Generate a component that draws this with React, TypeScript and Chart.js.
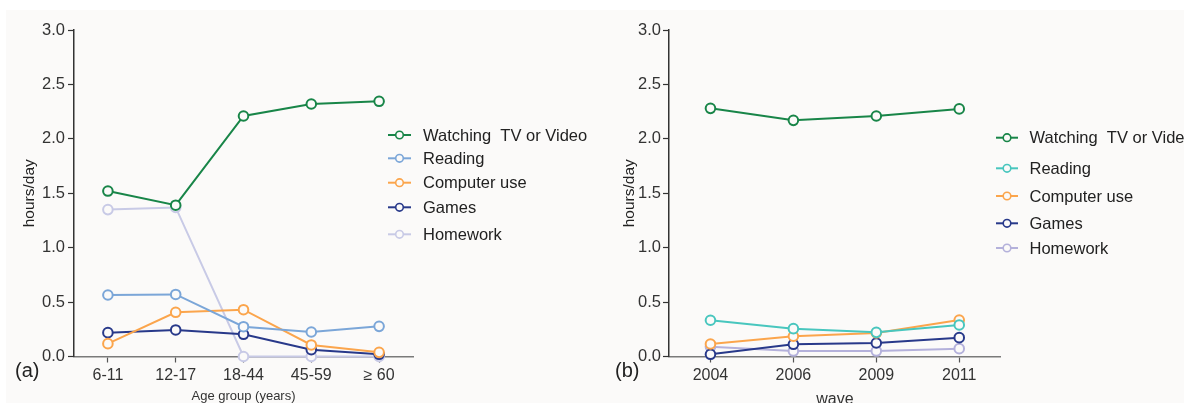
import React, { useEffect, useRef } from "react";
import { Chart, registerables } from "chart.js";

Chart.register(...registerables);

const ageGroups = ["6-11", "12-17", "18-44", "45-59", "\u2265 60"];
const waves = ["2004", "2006", "2009", "2011"];

const seriesNames = ["Watching  TV or Video", "Reading", "Computer use", "Games", "Homework"];

const ageWatching = [1.52, 1.39, 2.21, 2.32, 2.345];
const ageReading = [0.565, 0.57, 0.274, 0.225, 0.277];
const ageComputer = [0.118, 0.406, 0.43, 0.106, 0.038];
const ageGames = [0.219, 0.244, 0.204, 0.063, 0.02];
const ageHomework = [1.35, 1.37, 0, 0, 0];

const waveWatching = [2.28, 2.17, 2.21, 2.275];
const waveReading = [0.333, 0.256, 0.222, 0.29];
const waveComputer = [0.115, 0.186, 0.216, 0.335];
const waveGames = [0.02, 0.112, 0.124, 0.173];
const waveHomework = [0.09, 0.05, 0.05, 0.072];

const yTicks = [0, 0.5, 1.0, 1.5, 2.0, 2.5, 3.0];

const leftColors = ["#188548", "#7ba6d8", "#fba54c", "#28398a", "#c8cae6"];
const rightColors = ["#188548", "#48c6be", "#fba54c", "#28398a", "#b4b1db"];

const BG = "#fbfaf9";
const FONT = "'Liberation Sans', Arial, Helvetica, sans-serif";

const sideLegend = {
  id: "sideLegend",
  afterDraw(chart: any, _args: any, opts: any) {
    const ctx = chart.ctx;
    ctx.save();
    chart.data.datasets.forEach((ds: any, i: number) => {
      const y = opts.ys[i];
      const color = ds.borderColor;
      ctx.strokeStyle = color;
      ctx.lineWidth = 2;
      ctx.beginPath();
      ctx.moveTo(opts.x0, y);
      ctx.lineTo(opts.x1, y);
      ctx.stroke();
      ctx.beginPath();
      ctx.arc((opts.x0 + opts.x1) / 2, y, 3.8, 0, Math.PI * 2);
      ctx.fillStyle = BG;
      ctx.fill();
      ctx.lineWidth = 1.6;
      ctx.stroke();
      ctx.fillStyle = "#222";
      ctx.font = `16.5px ${FONT}`;
      ctx.textBaseline = "middle";
      ctx.textAlign = "left";
      ctx.fillText(ds.label, opts.tx, y + 1);
    });
    ctx.font = `20px ${FONT}`;
    ctx.fillStyle = "#222";
    ctx.textBaseline = "middle";
    ctx.fillText(opts.panel, opts.px, opts.py);
    ctx.restore();
  },
};

function makeConfig(
  labels: string[],
  series: number[][],
  colors: string[],
  yWidth: number,
  padRight: number,
  xTitle: string,
  xTitleSize: number,
  xTitlePadBottom: number,
  yTickPad: number,
  legend: any
) {
  return {
    type: "line" as const,
    data: {
      labels,
      datasets: series.map((vals, i) => ({
        label: seriesNames[i],
        data: vals,
        borderColor: colors[i],
        backgroundColor: BG,
        pointBackgroundColor: BG,
        pointBorderColor: colors[i],
        borderWidth: 2,
        pointRadius: 4.8,
        pointBorderWidth: 2,
        tension: 0,
        clip: false as const,
      })),
    },
    options: {
      animation: false as const,
      responsive: false,
      maintainAspectRatio: false,
      layout: { padding: { top: 30, right: padRight, left: 0, bottom: 0 } },
      plugins: {
        legend: { display: false },
        tooltip: { enabled: false },
        sideLegend: legend,
      },
      scales: {
        x: {
          type: "category" as const,
          offset: true,
          afterFit(scale: any) {
            scale.height = 46.5;
          },
          border: { display: true, color: "#7a7a7a", width: 1.5 },
          grid: {
            display: true,
            drawOnChartArea: false,
            drawTicks: true,
            tickLength: 6,
            tickWidth: 1.2,
            tickColor: "#555",
            offset: false,
          },
          ticks: {
            color: "#333",
            font: { family: FONT, size: 16 },
            padding: 3,
            maxRotation: 0,
            autoSkip: false,
          },
          title: {
            display: true,
            text: xTitle,
            color: "#333",
            font: { family: FONT, size: xTitleSize, lineHeight: 1 },
            padding: { top: 0, bottom: xTitlePadBottom },
          },
        },
        y: {
          type: "linear" as const,
          min: 0,
          max: 3,
          afterFit(scale: any) {
            scale.width = yWidth;
          },
          afterBuildTicks(scale: any) {
            scale.ticks = yTicks.map((v) => ({ value: v }));
          },
          border: { display: true, color: "#333", width: 1.5 },
          grid: {
            display: true,
            drawOnChartArea: false,
            drawTicks: true,
            tickLength: 6,
            tickWidth: 1.2,
            tickColor: "#333",
          },
          ticks: {
            color: "#333",
            font: { family: FONT, size: 16.5 },
            padding: yTickPad,
            callback: (v: any) => Number(v).toFixed(1),
          },
          title: {
            display: true,
            text: "hours/day",
            color: "#222",
            font: { family: FONT, size: 15.5, lineHeight: 1.2 },
            padding: { top: 20, bottom: 0 },
          },
        },
      },
    },
    plugins: [sideLegend],
  };
}

export default function App() {
  const leftRef = useRef<HTMLCanvasElement>(null);
  const rightRef = useRef<HTMLCanvasElement>(null);

  useEffect(() => {
    const left = new Chart(
      leftRef.current as HTMLCanvasElement,
      makeConfig(
        ageGroups,
        [ageWatching, ageReading, ageComputer, ageGames, ageHomework],
        leftColors,
        74,
        187,
        "Age group (years)",
        13,
        0,
        3,
        { x0: 388, x1: 411, tx: 423, ys: [135, 158.3, 182.7, 207.3, 234.3], panel: "(a)", px: 15, py: 371 }
      ) as any
    );
    const right = new Chart(
      rightRef.current as HTMLCanvasElement,
      makeConfig(
        waves,
        [waveWatching, waveReading, waveComputer, waveGames, waveHomework],
        rightColors,
        69,
        183.3,
        "wave",
        16,
        -5,
        2,
        { x0: 396, x1: 418, tx: 429.5, ys: [137.7, 168.3, 196, 223.3, 248], panel: "(b)", px: 15, py: 371 }
      ) as any
    );
    return () => {
      left.destroy();
      right.destroy();
    };
  }, []);

  return (
    <div style={{ position: "absolute", left: 0, top: 0, width: 1184, height: 403, background: "#fff", overflow: "hidden" }}>
      <div style={{ position: "absolute", left: 6, top: 10, right: 0, bottom: 0, background: BG }} />
      <canvas ref={leftRef} width={600} height={403} style={{ position: "absolute", left: 0, top: 0, width: 600, height: 403 }} />
      <canvas ref={rightRef} width={584} height={403} style={{ position: "absolute", left: 600, top: 0, width: 584, height: 403 }} />
    </div>
  );
}
